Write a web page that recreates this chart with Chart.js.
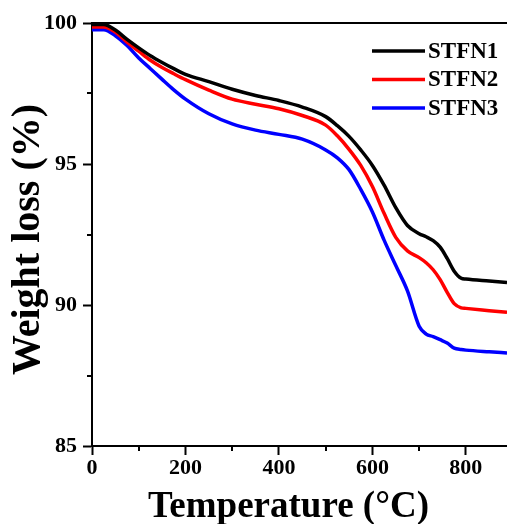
<!DOCTYPE html>
<html lang="en">
<head>
    <meta charset="UTF-8">
    <title>TGA - Weight loss</title>
    <script src="https://cdn.jsdelivr.net/npm/chart.js"></script>
    <style>
        html, body { margin: 0; padding: 0; background: #ffffff; overflow: hidden; }
        .wrap { position: relative; width: 507px; height: 524px; }
    </style>
</head>
<body>
    <div class="wrap"><canvas id="tga"></canvas></div>

    <script>
        // temperature grid (°C) shared by all three curves
        const temps = [0, 25, 50, 75, 100, 125, 150, 175, 200, 250, 300, 350, 400, 450, 500, 525, 550, 575, 600, 625, 650, 675, 700, 715, 730, 745, 760, 775, 790, 800, 850, 888];

        const stfn1 = [99.95, 99.95, 99.75, 99.42, 99.12, 98.84, 98.6, 98.38, 98.18, 97.92, 97.65, 97.43, 97.25, 97.02, 96.68, 96.36, 95.98, 95.5, 94.95, 94.25, 93.45, 92.82, 92.53, 92.42, 92.28, 92.05, 91.65, 91.2, 90.95, 90.92, 90.85, 90.8];
        const stfn2 = [99.86, 99.86, 99.68, 99.32, 99.0, 98.68, 98.42, 98.2, 97.99, 97.62, 97.3, 97.12, 96.96, 96.72, 96.38, 96.0, 95.52, 94.95, 94.2, 93.25, 92.4, 91.92, 91.68, 91.5, 91.25, 90.9, 90.45, 90.05, 89.9, 89.88, 89.8, 89.74];
        const stfn3 = [99.76, 99.76, 99.55, 99.2, 98.76, 98.38, 98.0, 97.63, 97.3, 96.78, 96.42, 96.2, 96.05, 95.88, 95.5, 95.22, 94.8, 94.1, 93.3, 92.3, 91.4, 90.5, 89.25, 88.97, 88.88, 88.77, 88.65, 88.47, 88.42, 88.4, 88.34, 88.3];

        const seriesNames = ['STFN1', 'STFN2', 'STFN3'];
        const seriesColors = ['#000000', '#ff0000', '#0000ff'];

        const xMajorTicks = [0, 200, 400, 600, 800];
        const xMinorTicks = [100, 300, 500, 700];
        const yMinorTicks = [87.5, 92.5, 97.5];

        const serif = '"Liberation Serif", "Times New Roman", serif';

        const toPoints = vals => vals.map((v, i) => ({ x: temps[i], y: v }));

        // minor ticks, x-axis title and in-plot legend
        const extras = {
            id: 'extras',
            afterDraw(chart) {
                const ctx = chart.ctx;
                const area = chart.chartArea;
                const xs = chart.scales.x, ys = chart.scales.y;
                ctx.save();
                ctx.strokeStyle = '#000';
                ctx.lineWidth = 2;
                xMinorTicks.forEach(v => {
                    const px = Math.round(xs.getPixelForValue(v));
                    ctx.beginPath();
                    ctx.moveTo(px, area.bottom);
                    ctx.lineTo(px, area.bottom + 5);
                    ctx.stroke();
                });
                yMinorTicks.forEach(v => {
                    const py = Math.round(ys.getPixelForValue(v));
                    ctx.beginPath();
                    ctx.moveTo(area.left - 5, py);
                    ctx.lineTo(area.left, py);
                    ctx.stroke();
                });

                ctx.fillStyle = '#000';
                ctx.font = 'bold 37px ' + serif;
                ctx.textAlign = 'center';
                ctx.textBaseline = 'alphabetic';
                ctx.fillText('Temperature (°C)', (area.left + area.right) / 2 - 11, 517);

                ctx.font = 'bold 23px ' + serif;
                ctx.textAlign = 'left';
                ctx.textBaseline = 'middle';
                chart.data.datasets.forEach((ds, i) => {
                    const y = 51 + i * 28.5;
                    ctx.strokeStyle = ds.borderColor;
                    ctx.lineWidth = 3.5;
                    ctx.beginPath();
                    ctx.moveTo(372, y);
                    ctx.lineTo(425, y);
                    ctx.stroke();
                    ctx.fillText(ds.label, 428, y + 1);
                });
                ctx.restore();
            }
        };

        const tickFont = { family: serif, size: 22, weight: 'bold' };

        new Chart(document.getElementById('tga'), {
            type: 'line',
            data: {
                datasets: [stfn1, stfn2, stfn3].map((vals, i) => ({
                    label: seriesNames[i],
                    data: toPoints(vals),
                    borderColor: seriesColors[i],
                    backgroundColor: seriesColors[i],
                    borderWidth: 3.5,
                    pointRadius: 0,
                    cubicInterpolationMode: 'monotone',
                    fill: false
                }))
            },
            options: {
                responsive: true,
                maintainAspectRatio: false,
                animation: false,
                layout: { padding: 0 },
                plugins: {
                    legend: { display: false },
                    tooltip: { enabled: false }
                },
                scales: {
                    x: {
                        type: 'linear',
                        position: 'bottom',
                        min: 0,
                        max: 888,
                        ticks: { color: '#000', font: tickFont, padding: 0, maxRotation: 0, autoSkip: false },
                        afterBuildTicks: s => { s.ticks = xMajorTicks.map(v => ({ value: v })); },
                        grid: { drawOnChartArea: false, tickLength: 9, tickWidth: 2, tickColor: '#000' },
                        border: { color: '#000', width: 2 },
                        afterFit: s => { s.height = 78; s.paddingRight = 0; }
                    },
                    xTop: {
                        type: 'linear',
                        position: 'top',
                        min: 0,
                        max: 888,
                        ticks: { display: false },
                        grid: { display: false },
                        border: { display: true, color: '#000', width: 2 },
                        afterFit: s => { s.height = 23; }
                    },
                    y: {
                        min: 85,
                        max: 100,
                        ticks: { stepSize: 5, color: '#000', font: tickFont, padding: 6 },
                        grid: { drawOnChartArea: false, tickLength: 9, tickWidth: 2, tickColor: '#000' },
                        border: { color: '#000', width: 2 },
                        title: {
                            display: true,
                            text: 'Weight loss (%) ',
                            color: '#000',
                            font: { family: serif, size: 40, weight: 'bold' },
                            padding: { top: 5, bottom: 0 }
                        },
                        afterFit: s => { s.width = 92; }
                    }
                }
            },
            plugins: [extras]
        });
    </script>
</body>
</html>
